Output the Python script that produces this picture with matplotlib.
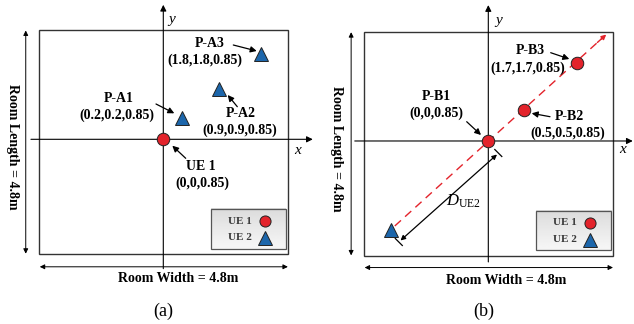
import matplotlib
matplotlib.use("Agg")
import matplotlib.pyplot as plt
import matplotlib.transforms as mtransforms
from matplotlib.patches import Rectangle
from matplotlib.lines import Line2D
import numpy as np

plt.rcParams['font.family'] = 'Liberation Serif'
plt.rcParams['mathtext.fontset'] = 'custom'
plt.rcParams['mathtext.rm'] = 'Liberation Serif'
plt.rcParams['mathtext.it'] = 'Liberation Serif:italic'
plt.rcParams['mathtext.bf'] = 'Liberation Serif:bold'

# room size (m)
room_w = 4.8
room_l = 4.8

# panel (a): UE 1 fixed at origin, UE 2 moved to three positions
a_names = ['P-A1', 'P-A2', 'P-A3']
a_coords = ['(0.2,0.2,0.85)', '(0.9,0.9,0.85)', '(1.8,1.8,0.85)']
a_x = [0.36, 1.07, 1.88]      # drawn positions (schematic, m)
a_y = [0.46, 1.08, 1.83]
ue1_a_x, ue1_a_y = 0.0, 0.0

# panel (b): UE 2 fixed, UE 1 moved along the diagonal
b_names = ['P-B1', 'P-B2', 'P-B3']
b_coords = ['(0,0,0.85)', '(0.5,0.5,0.85)', '(1.7,1.7,0.85)']
b_x = [0.0, 0.69, 1.71]
b_y = [0.0, 0.66, 1.68]
ue2_b_x, ue2_b_y = -1.88, -1.91

RED = '#e3232b'
BLUE = '#1c66ab'
EDGE = '#222222'

fig = plt.figure(figsize=(6.34, 3.24), dpi=100)
# pixel coords, origin top-left
pix = mtransforms.Affine2D().scale(1 / 634, -1 / 324).translate(0, 1) + fig.transFigure

axa = fig.add_axes([0, 0, 0.5, 1])
axb = fig.add_axes([0.5, 0, 0.5, 1])
lims = {axa: ((-3.146, 2.961), (-3.955, 2.983)),
        axb: ((-3.297, 2.804), (-3.919, 3.019))}
for ax in (axa, axb):
    ax.set_xlim(*lims[ax][0])
    ax.set_ylim(*lims[ax][1])
    ax.axis('off')


def arrow(ax, start, end, coords='data', style='-|>', lw=0.9, ms=8, color='k'):
    ax.annotate('', xy=end, xytext=start, xycoords=coords if coords == 'data' else pix,
                textcoords=coords if coords == 'data' else pix, annotation_clip=False,
                arrowprops=dict(arrowstyle=style, lw=lw, color=color, shrinkA=0, shrinkB=0,
                                mutation_scale=ms))


def ptext(x, y, s, size=10, weight='bold', **kw):
    fig.text(x, y, s, transform=pix, ha='center', va='center', fontsize=size,
             fontweight=weight, **kw)


def room(ax, haxis, vaxis, wy, lx):
    ax.add_patch(Rectangle((-room_w / 2, -2.46), room_w, room_l, fill=False,
                           ec='#333333', lw=1.0, zorder=1))
    arrow(ax, (haxis[0], 0), (haxis[1], 0), lw=0.8, ms=9)
    arrow(ax, (0, vaxis[0]), (0, vaxis[1]), lw=0.8, ms=9)
    arrow(ax, (-2.38, wy), (2.4, wy), style='<|-|>', lw=0.7, ms=7)
    arrow(ax, (lx, 2.33), (lx, -2.45), style='<|-|>', lw=0.7, ms=7)


def legend_box(ax, x0, y0, x1, y1):
    inv = ax.transData.inverted()
    (dx0, dy0), (dx1, dy1) = inv.transform(pix.transform([(x0, y1), (x1, y0)]))
    grad = np.linspace(0.86, 0.97, 50).reshape(-1, 1)
    grad[-6:] = 0.96
    ax.imshow(grad, cmap='gray', vmin=0, vmax=1, extent=(dx0, dx1, dy0, dy1),
              origin='upper', aspect='auto', zorder=3)
    ax.add_patch(Rectangle((dx0, dy0), dx1 - dx0, dy1 - dy0, fill=False,
                           ec='#555555', lw=0.9, zorder=4))
    xt = (x0 + x1) / 2 - 8
    xm = x1 - 21
    ya, yb = y0 + 12, y0 + 29
    ptext(xt, ya, 'UE 1', size=8, color='#3a3a3a')
    ptext(xt, yb, 'UE 2', size=8, color='#3a3a3a')
    mx, my1 = inv.transform(pix.transform((xm, ya)))
    _, my2 = inv.transform(pix.transform((xm, yb)))
    ax.plot(mx, my1, 'o', ms=8, mfc=RED, mec=EDGE, mew=0.7, zorder=5)
    ax.plot(mx, my2, '^', ms=9.5, mfc=BLUE, mec=EDGE, mew=0.7, zorder=5)


# ---------------- panel (a)
room(axa, (-2.55, 2.88), (-2.77, 2.88), -2.73, -2.65)
axa.plot(a_x, a_y, '^', ms=10, mfc=BLUE, mec=EDGE, mew=0.7, zorder=5)
axa.plot(ue1_a_x, ue1_a_y, 'o', ms=9, mfc=RED, mec=EDGE, mew=0.7, zorder=5)
legend_box(axa, 210.7, 209, 285.7, 249.3)

a_lab = [(118.3, 99, 116.7, 115, (156, 104), (174.3, 113.3)),
         (240.5, 113.3, 239.8, 130, (237.3, 106.7), (227.7, 95)),
         (209.7, 43.3, 205, 60.5, (233.3, 45), (256.7, 51))]
for name, crd, (nx, ny, cx, cy, s, e) in zip(a_names, a_coords, a_lab):
    ptext(nx, ny, name)
    ptext(cx, cy, crd)
    arrow(axa, s, e, coords='pix', lw=0.9, ms=9)
ptext(200.8, 166.7, 'UE 1')
ptext(202.8, 183.5, '(0,0,0.85)')
arrow(axa, (185.7, 158.3), (172.3, 145.7), coords='pix', lw=0.9, ms=9)

ptext(172, 19, 'y', size=11, weight='normal', style='italic')
ptext(298, 150, 'x', size=11, weight='normal', style='italic')
ptext(178.3, 278.5, 'Room Width = 4.8m')
ptext(12, 146.7, 'Room Length = 4.8m', rotation=-90)
ptext(163, 311, '(a)', size=13, weight='normal')

# ---------------- panel (b)
room(axb, (-2.57, 2.78), (-2.59, 2.91), -2.71, -2.64)
axb.plot([-1.80, 2.2], [-1.82, 2.21], '--', color=RED, lw=1.0, dashes=(6, 4), zorder=2)
arrow(axb, (2.1, 2.11), (2.27, 2.28), color=RED, lw=1.0, ms=7)
axb.plot(b_x, b_y, 'o', ms=9, mfc=RED, mec=EDGE, mew=0.7, zorder=5)
axb.plot(ue2_b_x, ue2_b_y, '^', ms=10, mfc=BLUE, mec=EDGE, mew=0.7, zorder=5)
legend_box(axb, 535.7, 210.7, 610.7, 250)

b_lab = [(436.7, 96.7, 436.7, 113.5, (466.7, 121.7), (481, 135)),
         (569.2, 116.7, 568, 133, (550, 116.7), (531.7, 113.3)),
         (530, 50.7, 527.8, 68, (550.7, 52.7), (569.3, 59))]
for name, crd, (nx, ny, cx, cy, s, e) in zip(b_names, b_coords, b_lab):
    ptext(nx, ny, name)
    ptext(cx, cy, crd)
    arrow(axb, s, e, coords='pix', lw=0.9, ms=9)

# distance D_UE2
arrow(axb, (497, 154.5), (400.5, 240.5), coords='pix', style='<|-|>', lw=0.9, ms=7)
for cx, cy in [(498.3, 153), (398.8, 242)]:
    fig.add_artist(Line2D([cx - 3.5, cx + 3.5], [cy - 3.5, cy + 3.5], transform=pix,
                          color='k', lw=0.9))
ptext(463, 201, r'$D_{\mathrm{UE2}}$', size=12, weight='normal')

ptext(498.3, 20.5, 'y', size=11, weight='normal', style='italic')
ptext(622.7, 149.3, 'x', size=11, weight='normal', style='italic')
ptext(506, 280, 'Room Width = 4.8m')
ptext(337, 149, 'Room Length = 4.8m', rotation=-90)
ptext(483.3, 311, '(b)', size=13, weight='normal')

for ax in (axa, axb):
    ax.set_xlim(*lims[ax][0])
    ax.set_ylim(*lims[ax][1])

fig.savefig('out.png', dpi=100)
